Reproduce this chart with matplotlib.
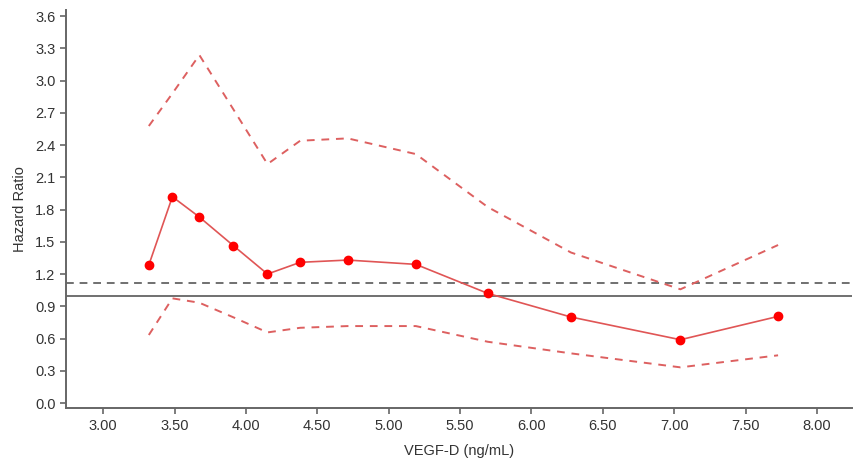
import numpy as np
import matplotlib as mpl
import matplotlib.pyplot as plt

mpl.rcParams['font.family'] = ['Liberation Sans', 'DejaVu Sans']

# data
vegf = [3.32, 3.485, 3.674, 3.913, 4.151, 4.38, 4.713, 5.19, 5.694, 6.277, 7.043, 7.727]
hr = [1.284, 1.919, 1.730, 1.463, 1.200, 1.309, 1.330, 1.290, 1.020, 0.800, 0.589, 0.806]
hr_upper = [2.577, 2.88, 3.237, 2.73, 2.223, 2.44, 2.462, 2.316, 1.823, 1.40, 1.058, 1.47]
hr_lower = [0.633, 0.974, 0.933, 0.797, 0.657, 0.70, 0.716, 0.716, 0.57, 0.462, 0.332, 0.444]
ref_line = 1.0
cut_line = 1.12

xticks = [3.00, 3.50, 4.00, 4.50, 5.00, 5.50, 6.00, 6.50, 7.00, 7.50, 8.00]
yticks = np.round(np.arange(0, 3.61, 0.3), 1)

fig = plt.figure(figsize=(8.54, 4.68), dpi=100)
ax = fig.add_axes([0.0773, 0.128, 0.9204, 0.8506])

ax.axhline(ref_line, color='#707070', lw=1.4, zorder=1)
ax.axhline(cut_line, color='#707070', lw=1.4, ls=(0, (4, 3)), zorder=1)

ax.plot(vegf, hr_upper, color='#dd6060', lw=1.4, ls=(0, (4, 3.5)), zorder=2)
ax.plot(vegf, hr_lower, color='#dd6060', lw=1.4, ls=(0, (4, 3.5)), zorder=2)
ax.plot(vegf, hr, color='#e05555', lw=1.2, marker='o', ms=6,
        mfc='#ff0000', mec='#ff0000', zorder=3)

ax.set_xlim(2.74, 8.245)
ax.set_ylim(-0.047, 3.656)
ax.set_xticks(xticks)
ax.set_xticklabels(['%.2f' % t for t in xticks])
ax.set_yticks(yticks)
ax.set_yticklabels(['%.1f' % t for t in yticks])

for s in ['top', 'right']:
    ax.spines[s].set_visible(False)
for s in ['left', 'bottom']:
    ax.spines[s].set_color('#666666')
    ax.spines[s].set_linewidth(1.4)
ax.tick_params(axis='both', colors='#666666', labelcolor='#333333',
               labelsize=10.5, length=4, width=1.2)

ax.set_xlabel('VEGF-D (ng/mL)', fontsize=10.5, color='#333333', labelpad=8)
ax.set_ylabel('Hazard Ratio', fontsize=10.5, color='#333333', labelpad=6)

fig.savefig('out.png', dpi=100)
